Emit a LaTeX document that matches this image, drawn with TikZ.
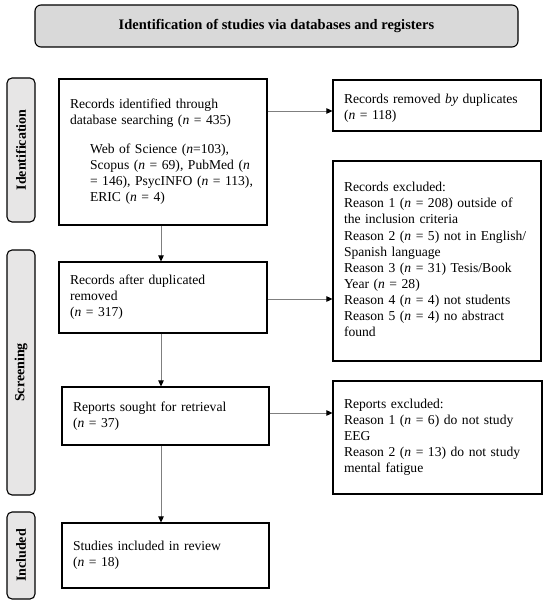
\documentclass[tikz,border=0pt]{standalone}
\usepackage{fontspec}
\setmainfont{Liberation Serif}
\usetikzlibrary{arrows.meta}
\newcommand\boxlines[1]{\begin{tabular}{@{}l@{}}#1\end{tabular}}
\begin{document}
\begin{tikzpicture}[x=1pt,y=-1pt,
  box/.style={draw=black, line width=1.1pt, align=left, inner xsep=11pt, inner ysep=0pt,
    font=\fontsize{13.6}{16.1}\selectfont},
  sidelabel/.style={draw=black, line width=1.1pt, fill=sidegray, rounded corners=5pt, rotate=90,
    minimum height=28pt, inner sep=0pt, font=\bfseries\fontsize{14}{16}\selectfont},
  conn/.style={draw=connGray, line width=0.8pt, -{Triangle[length=6pt,width=5.5pt,color=black]}}]
\definecolor{sidegray}{HTML}{E7E6E6}
\definecolor{bannergray}{HTML}{D9D9D9}
\definecolor{connGray}{HTML}{7F7F7F}
\useasboundingbox (0,0) rectangle (550,604);

\node[draw=black, line width=1.1pt, fill=bannergray, rounded corners=6pt, minimum width=483pt,
  minimum height=42pt, inner sep=0pt, font=\bfseries\fontsize{14.5}{16}\selectfont]
  (banner) at (276.5,26) {Identification of studies via databases and registers};

\node[sidelabel, minimum width=144pt] (lid) at (21,150) {Identification};
\node[sidelabel, minimum width=245pt] (lsc) at (21,372.5) {Screening};
\node[sidelabel, minimum width=87pt] (lin) at (21,555.5) {Included};

\node[box, text width=186pt, minimum height=146pt] (b1) at (163,152)
  {\boxlines{Records identified through\\
   database searching (\textit{n} = 435)\\[13pt]
   \hspace*{20pt}Web of Science (\textit{n}=103),\\
   \hspace*{20pt}Scopus (\textit{n} = 69), PubMed (\textit{n}\\
   \hspace*{20pt}= 146), PsycINFO (\textit{n} = 113),\\
   \hspace*{20pt}ERIC (\textit{n} = 4)}};

\node[box, text width=186pt, minimum height=51pt] (rem) at (437,105.5)
  {\boxlines{Records removed \textit{by} duplicates\\(\textit{n} = 118)\\[-6pt]}};

\node[box, text width=186pt, minimum height=71pt] (b2) at (163,297.5)
  {\boxlines{Records after duplicated\\removed\\(\textit{n} = 317)}};

\node[box, text width=186pt, minimum height=200pt] (exc) at (437,261)
  {\boxlines{Records excluded:\\
   Reason 1 (\textit{n} = 208) outside of\\
   the inclusion criteria\\
   Reason 2 (\textit{n} = 5) not in English/\\
   Spanish language\\
   Reason 3 (\textit{n} = 31) Tesis/Book\\
   Year (\textit{n} = 28)\\
   Reason 4 (\textit{n} = 4) not students\\
   Reason 5 (\textit{n} = 4) no abstract\\
   found}};

\node[box, text width=185pt, minimum height=58pt] (b3) at (165.5,416)
  {\boxlines{Reports sought for retrieval\\(\textit{n} = 37)}};

\node[box, text width=187pt, minimum height=113pt] (rex) at (437.5,437.5)
  {\boxlines{Reports excluded:\\
   Reason 1 (\textit{n} = 6) do not study\\
   EEG\\
   Reason 2 (\textit{n} = 13) do not study\\
   mental fatigue}};

\node[box, text width=185pt, minimum height=65pt] (b4) at (165.5,555.5)
  {\boxlines{Studies included in review\\(\textit{n} = 18)}};

\draw[conn] (b1.east |- 0,111) -- (rem.west |- 0,111);
\draw[conn] (b1.south -| 161,0) -- (b2.north -| 161,0);
\draw[conn] (b2.east |- 0,299) -- (exc.west |- 0,299);
\draw[conn] (b2.south -| 161,0) -- (b3.north -| 161,0);
\draw[conn] (b3.east |- 0,413) -- (rex.west |- 0,413);
\draw[conn] (b3.south -| 161,0) -- (b4.north -| 161,0);
\end{tikzpicture}
\end{document}
